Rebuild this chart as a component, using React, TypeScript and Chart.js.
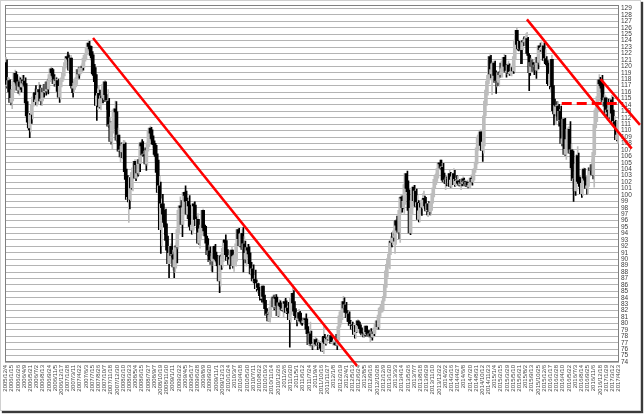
import React, { useEffect, useRef } from 'react';
import { Chart, registerables } from 'chart.js';

Chart.register(...registerables);

// Weekly USD/JPY candles, first week 2005/12/4, last week 2017/4/23 (595 weeks)
const firstOpen = 119.6;

const weeklyClose = [
  120.6, 116.9, 117.1, 117.8,
  116.0, 114.4, 115.0, 116.4, 117.7, 118.9, 117.6, 117.4, 116.3, 117.6, 116.9, 116.8, 117.9, 117.4, 117.7, 117.2, 114.3, 112.3, 111.3, 110.4, 112.6, 112.5, 114.0, 115.2, 115.9, 114.5, 114.8, 115.5, 116.4, 116.0, 114.6, 114.9, 116.6, 116.0, 117.2, 116.2, 117.6, 116.5, 117.8, 118.7, 119.6, 119.0, 118.6, 117.3, 117.9, 117.8, 117.8, 116.1, 115.2, 116.9, 118.0, 118.2, 118.9,
  120.0, 120.6, 121.5, 121.3, 121.1, 119.4, 121.3, 117.0, 116.6, 116.9, 117.4, 117.9, 118.2, 119.5, 118.8, 119.6, 119.6, 120.0, 119.8, 121.3, 121.7, 121.8, 122.9, 123.6, 123.1, 122.7, 121.7, 121.3, 118.8, 118.6, 117.6, 113.9, 115.4, 115.8, 113.7, 114.9, 115.4, 115.1, 117.2, 117.6, 115.6, 114.5, 114.6, 110.7, 110.9, 108.3, 111.2, 111.2, 113.2, 113.4, 112.9, 108.5,
  109.3, 106.8, 106.8, 106.7, 107.6, 107.9, 107.9, 103.6, 102.4, 99.3, 99.6, 99.3, 102.7, 101.1, 103.5, 104.2, 105.2, 102.6, 104.6, 103.4, 105.5, 104.9, 108.1, 107.6, 106.2, 106.2, 106.1, 104.8, 106.9, 108.1, 110.0, 110.4, 109.6, 108.8, 107.9, 107.8, 107.4, 106.0, 105.2, 100.4, 101.4, 94.6, 98.6, 98.0, 97.0, 95.7, 95.5, 92.9, 91.4, 89.3, 90.9, 92.0,
  90.6, 90.7, 88.8, 89.9, 92.0, 91.9, 94.6, 97.6, 98.3, 98.0, 95.4, 98.0, 100.4, 99.9, 99.0, 97.0, 99.0, 98.3, 95.1, 94.5, 95.3, 98.6, 98.3, 96.2, 95.2, 96.2, 92.5, 94.1, 94.7, 95.3, 97.6, 94.9, 94.4, 93.6, 92.5, 90.7, 91.3, 89.6, 89.8, 89.7, 90.9, 92.0, 90.1, 90.0, 89.7, 89.0, 86.6, 90.5, 89.1, 90.4, 91.7, 93.0,
  92.6, 90.7, 89.8, 90.3, 89.2, 89.9, 91.4, 89.0, 90.4, 90.5, 90.5, 92.4, 94.6, 93.2, 92.1, 93.9, 94.0, 91.5, 92.4, 90.0, 90.9, 91.8, 91.4, 90.8, 89.3, 87.7, 88.5, 86.6, 86.9, 86.6, 85.4, 86.2, 85.6, 85.2, 84.3, 83.9, 85.8, 84.2, 83.3, 82.3, 81.3, 81.4, 80.4, 81.3, 82.5, 83.5, 84.1, 82.6, 84.0, 83.9, 82.8, 81.2,
  83.2, 82.8, 82.6, 82.1, 82.2, 83.4, 83.1, 81.7, 82.4, 81.9, 80.6, 81.5, 84.0, 84.7, 83.2, 81.9, 81.2, 80.6, 80.8, 81.7, 80.8, 80.4, 80.2, 80.1, 80.4, 80.7, 80.6, 79.1, 78.4, 76.7, 78.4, 76.9, 76.6, 76.7, 76.8, 77.5, 76.8, 76.6, 77.0, 76.6, 76.9, 76.1, 75.7, 78.0, 77.1, 76.9, 77.7, 77.6, 77.6, 77.9, 78.1, 76.9,
  76.9, 76.9, 77.0, 76.7, 76.6, 77.6, 79.5, 81.2, 81.8, 81.8, 83.4, 82.4, 82.9, 81.7, 80.9, 81.5, 80.3, 79.7, 79.8, 79.1, 79.6, 78.3, 79.6, 78.7, 80.4, 79.8, 79.6, 79.2, 78.5, 78.2, 78.4, 78.3, 79.6, 78.7, 78.4, 78.0, 78.4, 78.1, 77.9, 78.7, 78.4, 79.3, 79.9, 80.4, 79.5, 81.3, 82.4, 82.4, 82.4, 83.5, 84.2, 86.0, 88.2,
  89.2, 90.1, 90.8, 92.8, 92.6, 93.5, 93.4, 93.6, 96.0, 95.3, 94.5, 94.2, 97.6, 99.6, 99.5, 98.0, 99.0, 101.6, 103.3, 101.0, 100.5, 97.6, 94.1, 97.9, 99.1, 101.2, 99.1, 100.6, 98.3, 98.8, 96.2, 97.5, 98.7, 98.1, 99.1, 99.4, 99.3, 98.3, 97.5, 98.6, 97.7, 97.4, 98.7, 99.0, 100.2, 101.1, 102.4, 102.9, 103.2, 104.1, 105.0, 104.8,
  104.2, 104.3, 102.3, 102.0, 102.3, 101.8, 102.5, 101.8, 103.3, 101.3, 102.3, 102.8, 103.3, 101.6, 102.4, 102.2, 102.2, 101.8, 101.5, 101.9, 101.8, 102.5, 102.0, 102.1, 101.4, 102.0, 101.3, 101.3, 101.8, 102.6, 102.0, 102.4, 103.8, 104.1, 105.1, 107.3, 109.0, 109.3, 109.8, 107.7, 106.9, 108.2, 112.3, 114.6, 116.3, 117.7, 118.6, 121.5, 118.8, 119.5, 120.4, 120.5,
  118.6, 117.5, 117.7, 117.5, 119.1, 118.7, 119.0, 119.6, 120.8, 121.4, 120.0, 119.1, 119.1, 120.2, 118.9, 118.9, 119.2, 119.8, 119.3, 121.5, 124.1, 125.6, 123.4, 122.7, 123.9, 122.8, 122.6, 124.0, 123.8, 123.9, 124.2, 124.3, 122.0, 121.7, 119.0, 120.6, 120.0, 120.6, 119.9, 120.2, 119.4, 121.4, 120.6, 123.2, 122.6, 122.8, 122.8, 123.2, 120.9, 121.2, 120.4, 120.2,
  117.3, 117.0, 118.8, 121.1, 116.8, 113.1, 112.6, 113.9, 113.8, 113.8, 111.6, 113.0, 111.7, 108.0, 108.7, 111.8, 106.3, 107.1, 108.6, 110.2, 110.2, 106.5, 107.0, 104.2, 102.2, 102.5, 100.6, 104.8, 106.1, 102.1, 101.8, 101.3, 100.2, 101.8, 104.0, 102.6, 102.3, 101.0, 101.4, 102.9, 104.2, 103.8, 104.7, 103.1, 106.6, 110.9, 113.2, 113.5, 115.3, 117.9, 117.3, 117.0,
  116.9, 114.5, 114.6, 115.1, 112.6, 113.2, 112.9, 112.1, 114.0, 114.8, 112.7, 111.3, 111.4, 111.1, 108.6, 109.3, 111.5,
];

const weeklyHigh = [
  121.4, 121.0, 118.3, 118.2,
  117.9, 116.4, 115.9, 117.2, 118.3, 119.4, 119.2, 118.7, 117.8, 118.4, 118.2, 117.7, 118.6, 118.6, 118.1, 118.2, 117.3, 114.5, 112.5, 111.7, 113.0, 113.3, 114.6, 115.5, 116.5, 117.0, 115.6, 116.2, 117.5, 117.1, 116.2, 115.4, 117.0, 116.8, 117.5, 117.5, 117.9, 118.0, 118.2, 119.0, 119.9, 119.7, 119.5, 118.7, 118.4, 118.2, 118.1, 118.0, 116.1, 117.2, 118.4, 118.8, 119.6,
  120.2, 121.0, 121.8, 122.2, 121.8, 121.3, 121.7, 120.9, 117.6, 118.0, 117.9, 118.3, 118.6, 120.0, 119.9, 119.9, 120.2, 120.5, 120.5, 121.6, 122.0, 122.6, 123.5, 124.1, 123.9, 123.2, 123.1, 122.3, 121.8, 120.3, 119.8, 118.7, 116.5, 117.0, 116.3, 115.3, 116.8, 116.2, 117.4, 117.9, 117.6, 115.6, 116.4, 115.0, 112.1, 111.4, 111.4, 112.3, 113.4, 114.6, 114.5, 112.3,
  110.4, 109.0, 107.6, 108.1, 107.9, 108.5, 108.4, 108.1, 104.0, 103.0, 100.2, 100.5, 103.3, 102.8, 103.9, 104.6, 105.5, 105.0, 105.4, 104.7, 105.8, 105.8, 108.3, 108.6, 108.3, 106.8, 107.3, 106.4, 107.7, 108.5, 110.3, 110.7, 110.5, 110.1, 109.2, 108.4, 108.0, 107.7, 106.4, 105.4, 102.9, 102.0, 99.4, 100.1, 98.6, 97.6, 97.8, 95.5, 93.6, 91.9, 91.5, 92.4,
  94.0, 91.4, 91.1, 90.8, 92.5, 92.2, 94.9, 98.0, 99.7, 99.1, 98.9, 99.0, 100.6, 101.4, 100.6, 99.5, 99.4, 99.9, 98.4, 95.7, 97.5, 98.9, 98.9, 98.4, 96.6, 97.1, 96.2, 94.6, 95.1, 95.6, 97.8, 97.2, 95.3, 95.1, 93.4, 93.2, 92.2, 91.9, 90.4, 90.3, 91.3, 92.2, 92.3, 91.1, 90.6, 89.8, 89.3, 90.8, 90.0, 90.8, 91.8, 93.1,
  93.8, 92.9, 91.5, 90.6, 91.3, 90.4, 91.9, 91.2, 90.4, 90.8, 90.9, 92.6, 94.7, 94.8, 93.8, 94.0, 94.6, 94.9, 93.5, 92.8, 91.5, 92.3, 92.3, 91.9, 91.0, 89.5, 88.8, 89.1, 87.5, 88.3, 86.8, 86.4, 86.1, 85.4, 85.0, 84.6, 85.9, 85.8, 84.4, 83.6, 82.3, 81.8, 81.7, 81.8, 82.6, 83.9, 84.4, 84.4, 84.5, 84.5, 84.1, 83.0,
  83.7, 83.5, 83.2, 83.1, 82.3, 83.7, 83.9, 83.5, 82.7, 83.3, 82.0, 81.8, 84.2, 85.5, 85.1, 83.4, 82.3, 81.5, 81.5, 82.2, 81.9, 81.6, 80.5, 80.8, 80.8, 81.0, 81.5, 80.7, 79.5, 78.7, 80.2, 78.8, 77.0, 77.6, 77.1, 77.9, 77.6, 77.0, 77.4, 77.0, 77.2, 77.1, 76.3, 79.5, 78.3, 77.3, 77.9, 78.2, 78.1, 78.1, 78.2, 78.1,
  77.3, 77.1, 77.4, 78.3, 76.8, 77.7, 79.6, 81.3, 81.9, 82.0, 84.2, 84.0, 83.2, 83.3, 82.0, 81.8, 81.8, 80.5, 80.3, 80.2, 79.9, 79.7, 79.8, 79.7, 80.6, 80.3, 80.2, 79.8, 79.3, 78.6, 78.7, 78.7, 79.6, 79.6, 78.9, 78.9, 78.7, 79.2, 78.2, 78.8, 78.9, 79.4, 80.3, 80.7, 80.5, 81.4, 82.8, 82.8, 82.8, 83.9, 84.6, 86.3, 88.4,
  89.3, 90.2, 90.9, 92.9, 94.1, 94.4, 94.0, 94.0, 96.2, 96.7, 95.8, 94.9, 97.8, 99.9, 99.8, 99.9, 99.1, 101.9, 103.3, 103.7, 102.2, 100.8, 98.8, 98.3, 99.2, 101.5, 101.5, 100.9, 100.9, 99.9, 99.1, 98.6, 99.1, 98.9, 100.2, 100.6, 99.8, 99.6, 98.5, 98.7, 99.0, 98.9, 98.8, 99.1, 100.4, 101.3, 102.6, 103.4, 103.9, 104.4, 105.0, 105.4,
  105.4, 104.9, 104.9, 103.4, 102.7, 102.8, 102.8, 102.7, 103.8, 103.5, 102.7, 102.9, 104.1, 103.8, 102.6, 103.0, 102.9, 102.2, 102.4, 102.0, 102.1, 102.8, 102.6, 102.3, 102.1, 102.3, 102.0, 101.8, 101.9, 103.1, 102.9, 102.6, 104.1, 104.5, 105.7, 107.4, 109.5, 109.5, 110.1, 109.2, 107.8, 108.4, 112.5, 115.6, 116.5, 118.9, 118.9, 121.8, 121.7, 119.6, 120.8, 120.7,
  120.8, 119.3, 118.9, 118.6, 119.2, 120.5, 119.8, 119.7, 121.3, 122.0, 121.7, 120.3, 120.4, 120.8, 120.4, 120.1, 119.8, 120.5, 120.2, 121.7, 124.5, 125.9, 125.0, 124.0, 124.1, 123.8, 123.0, 124.3, 124.6, 124.5, 125.1, 125.3, 124.5, 121.8, 121.7, 121.3, 121.0, 121.0, 120.6, 120.7, 120.3, 121.5, 121.5, 123.3, 123.6, 123.8, 123.1, 123.7, 123.6, 122.6, 121.5, 120.9,
  120.5, 118.3, 118.9, 121.7, 121.0, 117.0, 114.9, 113.9, 114.5, 114.5, 114.1, 113.3, 113.8, 111.8, 109.7, 111.9, 111.9, 107.5, 109.4, 110.6, 110.6, 111.4, 107.9, 106.9, 106.8, 103.6, 103.0, 106.3, 107.5, 106.5, 102.8, 102.7, 101.3, 101.9, 104.2, 104.1, 102.8, 102.8, 101.9, 104.2, 104.6, 104.3, 105.5, 105.0, 106.9, 111.0, 113.9, 114.8, 115.5, 118.7, 118.3, 117.9,
  118.6, 117.5, 115.6, 115.4, 115.1, 113.5, 114.9, 113.7, 114.4, 115.5, 115.2, 113.2, 112.2, 111.6, 111.1, 109.5, 111.8,
];

const weeklyLow = [
  119.3, 116.6, 116.1, 116.9,
  114.9, 114.0, 113.4, 114.6, 116.0, 117.3, 117.1, 116.9, 115.8, 115.5, 116.4, 116.0, 116.7, 116.9, 116.6, 116.8, 113.9, 111.7, 110.1, 108.9, 109.8, 111.1, 111.8, 113.8, 114.6, 114.0, 113.8, 114.2, 115.3, 115.0, 114.0, 113.9, 114.6, 115.2, 115.9, 115.5, 116.0, 115.7, 116.4, 117.6, 118.5, 118.3, 117.9, 116.9, 116.9, 117.2, 117.0, 115.7, 114.4, 114.9, 116.8, 117.6, 117.9,
  118.5, 119.7, 120.2, 120.8, 120.4, 118.9, 119.2, 115.9, 115.2, 115.9, 116.4, 116.8, 117.2, 118.2, 118.1, 118.6, 118.9, 119.0, 119.4, 120.2, 120.8, 121.1, 121.8, 122.7, 122.4, 121.9, 120.9, 120.9, 118.1, 117.9, 117.0, 111.6, 113.3, 114.3, 113.5, 113.2, 114.3, 114.3, 114.8, 116.8, 115.2, 113.3, 114.0, 110.5, 109.9, 107.9, 107.2, 109.6, 110.3, 112.6, 112.3, 108.2,
  107.8, 105.9, 105.0, 105.8, 105.6, 106.5, 107.0, 103.5, 101.5, 98.9, 95.7, 97.8, 99.1, 100.9, 100.6, 102.6, 103.1, 102.2, 103.4, 102.9, 103.2, 103.6, 104.9, 107.2, 106.0, 105.0, 105.4, 103.8, 104.6, 106.8, 107.5, 108.7, 108.5, 108.3, 106.3, 106.1, 103.5, 104.7, 103.0, 97.6, 99.3, 90.9, 92.1, 96.2, 95.0, 93.8, 94.8, 92.2, 90.9, 87.1, 89.9, 89.4,
  90.3, 88.3, 87.1, 87.9, 88.6, 89.4, 91.6, 93.9, 96.9, 96.8, 93.5, 95.4, 96.9, 99.0, 97.9, 96.3, 95.0, 97.7, 94.8, 93.9, 94.0, 94.5, 96.8, 95.5, 94.5, 95.1, 92.3, 91.7, 93.0, 93.7, 94.5, 94.7, 93.6, 93.2, 91.9, 90.5, 90.3, 89.2, 88.2, 88.0, 89.0, 90.1, 89.9, 89.4, 88.9, 88.3, 84.8, 85.8, 88.4, 88.7, 89.6, 90.9,
  91.8, 90.2, 89.5, 89.1, 88.5, 88.9, 89.7, 88.6, 88.1, 89.2, 88.9, 89.7, 92.0, 92.7, 91.9, 92.0, 92.8, 88.0, 91.4, 89.4, 88.9, 90.3, 90.8, 90.3, 89.1, 87.5, 87.3, 86.3, 86.3, 86.3, 85.0, 84.7, 84.9, 83.6, 83.7, 83.3, 82.9, 84.1, 83.2, 81.9, 80.9, 80.9, 80.4, 80.2, 80.9, 82.4, 82.7, 82.1, 82.3, 83.3, 82.7, 81.1,
  81.3, 82.3, 82.0, 81.9, 81.0, 81.9, 82.8, 81.5, 81.6, 81.6, 76.3, 80.2, 81.4, 83.7, 82.9, 81.6, 81.1, 79.6, 80.2, 80.8, 80.5, 79.9, 79.7, 80.0, 79.8, 80.1, 80.4, 78.5, 78.3, 76.6, 76.3, 76.6, 75.9, 76.1, 76.4, 76.8, 76.6, 75.9, 76.4, 76.3, 76.5, 75.9, 75.6, 75.3, 77.0, 76.6, 76.8, 77.4, 77.4, 77.6, 77.6, 76.9,
  76.6, 76.6, 76.6, 76.6, 75.9, 76.5, 77.4, 79.4, 79.9, 80.6, 81.7, 81.8, 81.9, 81.5, 80.3, 80.4, 80.2, 79.6, 79.5, 78.9, 78.8, 77.7, 77.7, 78.6, 78.6, 79.3, 79.3, 78.9, 78.3, 77.9, 77.8, 78.0, 78.2, 78.2, 78.3, 77.9, 77.1, 77.9, 77.4, 77.8, 78.1, 78.4, 79.1, 79.6, 79.1, 79.3, 81.1, 81.7, 81.8, 82.1, 83.5, 84.2, 85.6,
  87.2, 88.7, 88.5, 90.7, 91.9, 92.2, 92.8, 90.9, 92.3, 94.9, 94.3, 93.2, 92.6, 97.1, 97.3, 97.8, 97.1, 98.5, 101.3, 100.6, 100.0, 95.9, 93.8, 94.3, 97.0, 98.9, 98.2, 98.8, 98.2, 97.6, 95.8, 95.8, 97.0, 96.8, 97.9, 98.9, 97.8, 97.9, 96.9, 96.6, 97.6, 96.9, 96.9, 97.6, 98.7, 99.7, 101.2, 101.6, 102.1, 102.6, 104.0, 104.1,
  103.9, 102.9, 102.1, 101.8, 100.8, 101.4, 101.6, 101.5, 101.2, 101.2, 101.2, 101.7, 102.8, 101.3, 101.4, 101.9, 101.9, 101.4, 101.4, 100.8, 101.4, 101.8, 101.7, 101.7, 101.3, 101.2, 101.1, 101.0, 101.1, 101.7, 101.5, 101.9, 102.3, 103.5, 104.1, 104.8, 106.9, 108.3, 108.3, 107.3, 105.2, 106.5, 107.6, 112.4, 113.9, 115.5, 117.3, 117.9, 118.2, 115.6, 119.2, 118.9,
  118.0, 115.8, 116.8, 117.0, 116.9, 118.3, 118.3, 118.3, 119.3, 120.5, 119.3, 118.3, 118.7, 118.9, 118.6, 118.7, 118.5, 118.9, 118.9, 119.2, 121.2, 123.8, 122.5, 122.4, 122.6, 120.4, 120.4, 122.6, 123.2, 123.2, 123.6, 123.8, 121.7, 116.2, 118.6, 119.2, 119.2, 119.2, 118.7, 119.5, 118.1, 119.3, 119.6, 120.3, 122.3, 122.2, 122.3, 121.9, 120.6, 120.7, 120.2, 120.0,
  117.2, 116.5, 115.9, 118.1, 116.5, 110.9, 112.3, 111.0, 112.2, 112.3, 110.7, 111.3, 111.3, 107.6, 107.6, 107.9, 106.1, 105.5, 107.0, 108.6, 108.7, 106.4, 106.2, 103.5, 99.0, 101.4, 99.9, 100.6, 104.7, 102.0, 100.7, 101.0, 99.6, 99.9, 101.9, 101.2, 101.3, 100.1, 100.1, 101.3, 102.9, 103.2, 103.7, 102.5, 101.2, 106.2, 110.4, 111.4, 112.9, 114.6, 116.6, 116.0,
  115.1, 113.8, 112.6, 112.5, 112.1, 111.6, 112.7, 111.9, 111.7, 113.7, 112.5, 110.9, 110.1, 110.1, 108.4, 108.1, 109.7,
];

// Tick labels, one every 6 weeks
const xTickLabels = [
  '2005/12/4', '2006/1/15', '2006/2/26', '2006/4/9', '2006/5/21', '2006/7/2', '2006/8/13', '2006/9/24', '2006/11/5', '2006/12/17',
  '2007/1/28', '2007/3/11', '2007/4/22', '2007/6/3', '2007/7/15', '2007/8/26', '2007/10/7', '2007/11/18', '2007/12/30',
  '2008/2/10', '2008/3/23', '2008/5/4', '2008/6/15', '2008/7/27', '2008/9/7', '2008/10/19', '2008/11/30',
  '2009/1/11', '2009/2/22', '2009/4/5', '2009/5/17', '2009/6/28', '2009/8/9', '2009/9/20', '2009/11/1', '2009/12/13',
  '2010/1/24', '2010/3/7', '2010/4/18', '2010/5/30', '2010/7/11', '2010/8/22', '2010/10/3', '2010/11/14', '2010/12/26',
  '2011/2/6', '2011/3/20', '2011/5/1', '2011/6/12', '2011/7/24', '2011/9/4', '2011/10/16', '2011/11/27',
  '2012/1/8', '2012/2/19', '2012/4/1', '2012/5/13', '2012/6/24', '2012/8/5', '2012/9/16', '2012/10/28', '2012/12/9',
  '2013/1/20', '2013/3/3', '2013/4/14', '2013/5/26', '2013/7/7', '2013/8/18', '2013/9/29', '2013/11/10', '2013/12/22',
  '2014/2/2', '2014/3/16', '2014/4/27', '2014/6/8', '2014/7/20', '2014/8/31', '2014/10/12', '2014/11/23',
  '2015/1/4', '2015/2/15', '2015/3/29', '2015/5/10', '2015/6/21', '2015/8/2', '2015/9/13', '2015/10/25', '2015/12/6',
  '2016/1/17', '2016/2/28', '2016/4/10', '2016/5/22', '2016/7/3', '2016/8/14', '2016/9/25', '2016/11/6', '2016/12/18',
  '2017/1/29', '2017/3/12', '2017/4/23',
];
const xTickStep = 6;

const yMin = 74;
const yMax = 129.5;

// Hand-drawn trend lines (week index, price)
const trendAWeek = [84.8, 340.6];
const trendAPrice = [124.4, 73.4];
const trendBWeek = [505.3, 606.8];
const trendBPrice = [127.3, 107.2];
const trendCWeek = [576.7, 614.8];
const trendCPrice = [118.0, 110.9];
const levelWeek = [539, 598.3];
const levelPrice = [114.2, 114.2];

const UP = '#bdbdbd';
const DOWN = '#000000';
const RED = '#ff0000';
const FONT = "'Liberation Sans', Arial, sans-serif";

const plotFrame = {
  id: 'plotFrame',
  beforeDatasetsDraw(chart: any) {
    const { ctx, chartArea: a } = chart;
    ctx.save();
    ctx.strokeStyle = '#808080';
    ctx.lineWidth = 1;
    ctx.strokeRect(Math.round(a.left) + 0.5, Math.round(a.top) + 0.5, Math.round(a.right - a.left) - 1, Math.round(a.bottom - a.top) - 1);
    ctx.restore();
  },
};

export default function App() {
  const ref = useRef<HTMLCanvasElement>(null);

  useEffect(() => {
    const n = Math.min(weeklyClose.length, weeklyHigh.length, weeklyLow.length);
    const closes = weeklyClose.slice(0, n);
    const opens = closes.map((c, i) => (i === 0 ? firstOpen : closes[i - 1]));
    const up = closes.map((c, i) => c >= opens[i]);
    const wickData = closes.map((c, i) => ({
      x: i,
      y: [Math.min(weeklyLow[i], opens[i], c), Math.max(weeklyHigh[i], opens[i], c)],
    }));
    const bodyData = closes.map((c, i) => ({ x: i, y: [opens[i], c] }));
    const colors = up.map((u) => (u ? UP : DOWN));
    const pts = (w: number[], p: number[]) => w.map((x, i) => ({ x, y: p[i] }));
    const xMax = n - 0.5;

    const lineDs = (w: number[], p: number[], dash: number[] = [], width = 2.5) => ({
      type: 'line' as const,
      data: pts(w, p),
      xAxisID: 'x',
      yAxisID: 'y',
      borderColor: RED,
      borderWidth: width,
      borderDash: dash,
      pointRadius: 0,
      fill: false,
      clip: false as any,
      order: 0,
      tension: 0,
    });

    const chart = new Chart(ref.current as HTMLCanvasElement, {
      type: 'bar',
      data: {
        datasets: [
          lineDs(trendAWeek, trendAPrice),
          lineDs(trendBWeek, trendBPrice),
          lineDs(trendCWeek, trendCPrice),
          lineDs(levelWeek, levelPrice, [10, 5], 3),
          {
            type: 'bar',
            data: bodyData as any,
            xAxisID: 'x',
            yAxisID: 'y',
            backgroundColor: colors,
            borderWidth: 0,
            barThickness: 2,
            minBarLength: 1,
            order: 2,
          },
          {
            type: 'bar',
            data: wickData as any,
            xAxisID: 'xw',
            yAxisID: 'y',
            backgroundColor: colors,
            borderWidth: 0,
            barThickness: 1,
            order: 3,
          },
        ] as any,
      },
      options: {
        responsive: false,
        animation: false,
        devicePixelRatio: 1,
        events: [],
        layout: { padding: { left: 5, top: 5, right: 8, bottom: 4 } },
        plugins: { legend: { display: false }, tooltip: { enabled: false } },
        scales: {
          x: {
            type: 'linear',
            min: -0.5,
            max: xMax,
            offset: false,
            afterFit: (s: any) => { s.height = 50; },
            grid: { display: false, drawTicks: false },
            border: { display: false },
            ticks: {
              stepSize: xTickStep,
              includeBounds: false,
              autoSkip: false,
              maxTicksLimit: 1000,
              minRotation: 90,
              maxRotation: 90,
              padding: 3,
              color: '#444',
              font: { family: FONT, size: 6 },
              callback: (v: any) => {
                const k = Number(v) / xTickStep;
                return Number.isInteger(k) && xTickLabels[k] ? xTickLabels[k] : '';
              },
            },
          },
          xw: {
            type: 'linear',
            display: false,
            min: -0.5,
            max: xMax,
            offset: false,
          },
          y: {
            type: 'linear',
            position: 'right',
            min: yMin,
            max: yMax,
            afterFit: (s: any) => { s.width = 17; },
            grid: { color: '#b4b4b4', lineWidth: 1, drawTicks: false },
            border: { display: false },
            ticks: {
              stepSize: 1,
              includeBounds: false,
              autoSkip: false,
              maxTicksLimit: 1000,
              padding: 2,
              color: '#3a3a3a',
              font: { family: FONT, size: 6.5, lineHeight: 1 },
            },
          },
        } as any,
      },
      plugins: [plotFrame],
    });
    return () => chart.destroy();
  }, []);

  return (
    <div style={{ position: 'absolute', left: 0, top: 0, width: 644, height: 416, background: '#fff', overflow: 'hidden' }}>
      <div
        style={{
          position: 'absolute', left: 0, top: 0, width: 641, height: 411, boxSizing: 'border-box',
          border: '1px solid #d0d0d0', boxShadow: '2px 2px 1px #3a3a3a', background: '#fff',
        }}
      />
      <canvas ref={ref} width={644} height={416} style={{ position: 'absolute', left: 0, top: 0, width: 644, height: 416 }} />
    </div>
  );
}
